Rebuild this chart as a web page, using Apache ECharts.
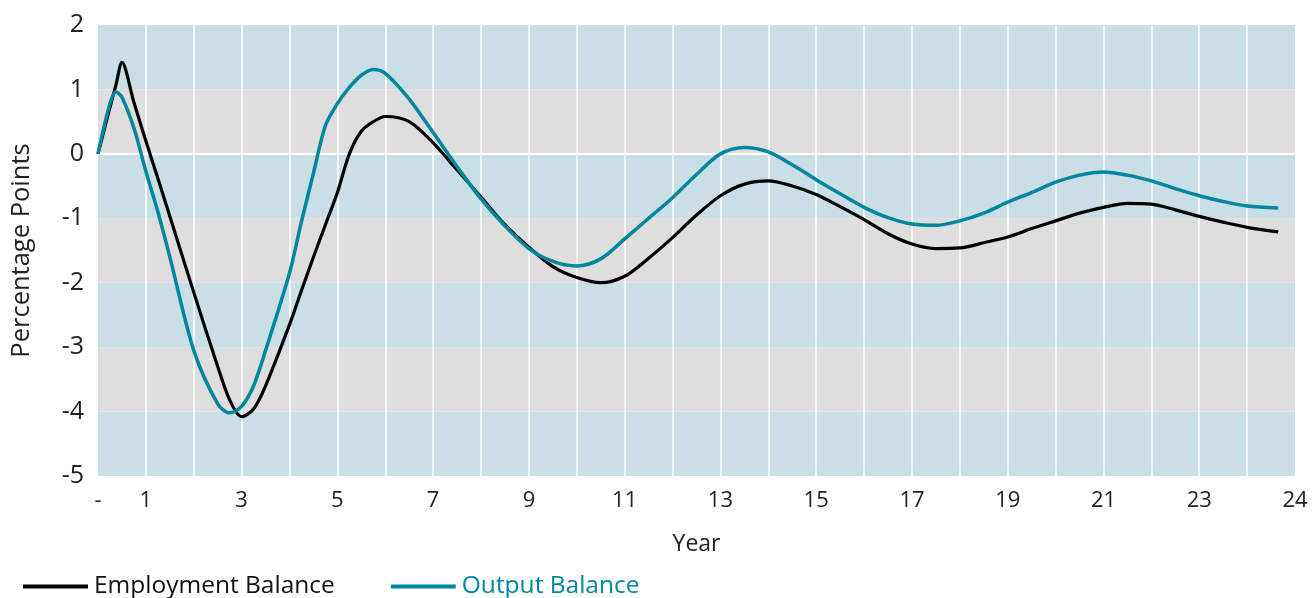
<!DOCTYPE html>
<html>
<head>
<meta charset="utf-8">
<script src="https://cdn.jsdelivr.net/npm/echarts@6/dist/echarts.min.js"></script>
<style>
  html, body { margin: 0; padding: 0; background: #fff; }
  #chart { width: 1315px; height: 598px; }
</style>
</head>
<body>
<div id="chart"></div>
<script>
// ---- data ----
var years = [0, 0.25, 0.375, 0.5, 0.75, 1, 1.25, 1.5, 2, 2.5, 2.75, 3, 3.25, 3.5, 4, 4.25, 4.5, 4.75, 5, 5.25, 5.5, 5.75, 6, 6.5, 7, 7.5, 8, 8.5, 9, 9.5, 10, 10.5, 11, 11.5, 12, 12.5, 13, 13.5, 14, 14.5, 15, 15.5, 16, 16.5, 17, 17.5, 18, 18.5, 19, 19.5, 20, 20.5, 21, 21.5, 22, 22.5, 23, 23.5, 24, 24.65];
var employmentBalance = [0, 0.72, 1.07, 1.42, 0.8, 0.2, -0.38, -0.97, -2.15, -3.3, -3.82, -4.08, -3.96, -3.6, -2.65, -2.12, -1.6, -1.1, -0.6, 0.0, 0.35, 0.5, 0.58, 0.5, 0.17, -0.25, -0.67, -1.1, -1.45, -1.75, -1.92, -2.0, -1.9, -1.62, -1.3, -0.95, -0.65, -0.47, -0.42, -0.5, -0.63, -0.82, -1.02, -1.24, -1.4, -1.47, -1.46, -1.38, -1.29, -1.16, -1.04, -0.92, -0.83, -0.77, -0.78, -0.87, -0.97, -1.06, -1.14, -1.21];
var outputBalance = [0, 0.78, 0.96, 0.88, 0.4, -0.27, -0.9, -1.6, -3.05, -3.88, -4.02, -3.92, -3.6, -3.05, -1.85, -1.05, -0.3, 0.44, 0.78, 1.03, 1.22, 1.31, 1.25, 0.85, 0.33, -0.2, -0.7, -1.12, -1.47, -1.67, -1.74, -1.63, -1.32, -1.0, -0.68, -0.32, 0.0, 0.1, 0.03, -0.17, -0.4, -0.62, -0.83, -0.99, -1.09, -1.11, -1.04, -0.92, -0.75, -0.6, -0.44, -0.33, -0.28, -0.33, -0.42, -0.54, -0.65, -0.74, -0.81, -0.84];
var xTickLabels = ['-', '1', '', '3', '', '5', '', '7', '', '9', '', '11', '', '13', '', '15', '', '17', '', '19', '', '21', '', '23', '', '24'];
var seriesNames = ['Employment Balance', 'Output Balance'];

// ---- build ----
function pairs(xs, ys) { return xs.map(function (x, i) { return [x, ys[i]]; }); }
var FONT = '"Open Sans", "Noto Sans", sans-serif';
var TEAL = '#00869e';
var chart = echarts.init(document.getElementById('chart'));
chart.setOption({
  animation: false,
  backgroundColor: '#ffffff',
  grid: { left: 98, right: 20, top: 25, bottom: 122, containLabel: false },
  legend: {
    left: 18, top: 569,
    itemWidth: 65, itemHeight: 4, itemGap: 56,
    icon: 'rect',
    textStyle: { fontFamily: FONT, fontSize: 24.5, padding: [0, 0, 0, 1] },
    data: [
      { name: seriesNames[0], textStyle: { color: '#111' } },
      { name: seriesNames[1], textStyle: { color: TEAL } }
    ]
  },
  xAxis: {
    type: 'value', min: 0, max: 25, interval: 1,
    name: 'Year', nameLocation: 'middle', nameGap: 57,
    nameTextStyle: { fontFamily: FONT, fontSize: 23, color: '#222' },
    axisLine: { show: false }, axisTick: { show: false },
    axisLabel: {
      fontFamily: FONT, fontSize: 22, color: '#222', margin: 14,
      showMinLabel: true, showMaxLabel: true,
      formatter: function (v) { var i = Math.round(v); return xTickLabels[i] !== undefined ? xTickLabels[i] : ''; }
    },
    splitLine: { show: true, showMinLine: false, showMaxLine: false, lineStyle: { color: '#ffffff', width: 1.5 } }
  },
  yAxis: {
    type: 'value', min: -5, max: 2, interval: 1,
    name: 'Percentage Points', nameLocation: 'middle', nameRotate: 90, nameGap: 63,
    nameTextStyle: { fontFamily: FONT, fontSize: 25.5, color: '#222' },
    axisLine: { show: false }, axisTick: { show: false },
    axisLabel: { fontFamily: FONT, fontSize: 25, color: '#222', margin: 14 },
    splitArea: { show: true, areaStyle: { color: ['#c9dfe5', '#dedede'] } },
    splitLine: { show: true, lineStyle: { width: 2, color: ['rgba(0,0,0,0)', 'rgba(0,0,0,0)', 'rgba(0,0,0,0)', 'rgba(0,0,0,0)', 'rgba(0,0,0,0)', '#ffffff', 'rgba(0,0,0,0)', 'rgba(0,0,0,0)'] } }
  },
  series: [
    {
      name: seriesNames[0], type: 'line', data: pairs(years, employmentBalance),
      smooth: 0.3, showSymbol: false, symbol: 'none',
      lineStyle: { color: '#000000', width: 3.2 }, itemStyle: { color: '#000000' }
    },
    {
      name: seriesNames[1], type: 'line', data: pairs(years, outputBalance),
      smooth: 0.3, showSymbol: false, symbol: 'none',
      lineStyle: { color: TEAL, width: 3.5 }, itemStyle: { color: TEAL }
    }
  ]
});
</script>
</body>
</html>
